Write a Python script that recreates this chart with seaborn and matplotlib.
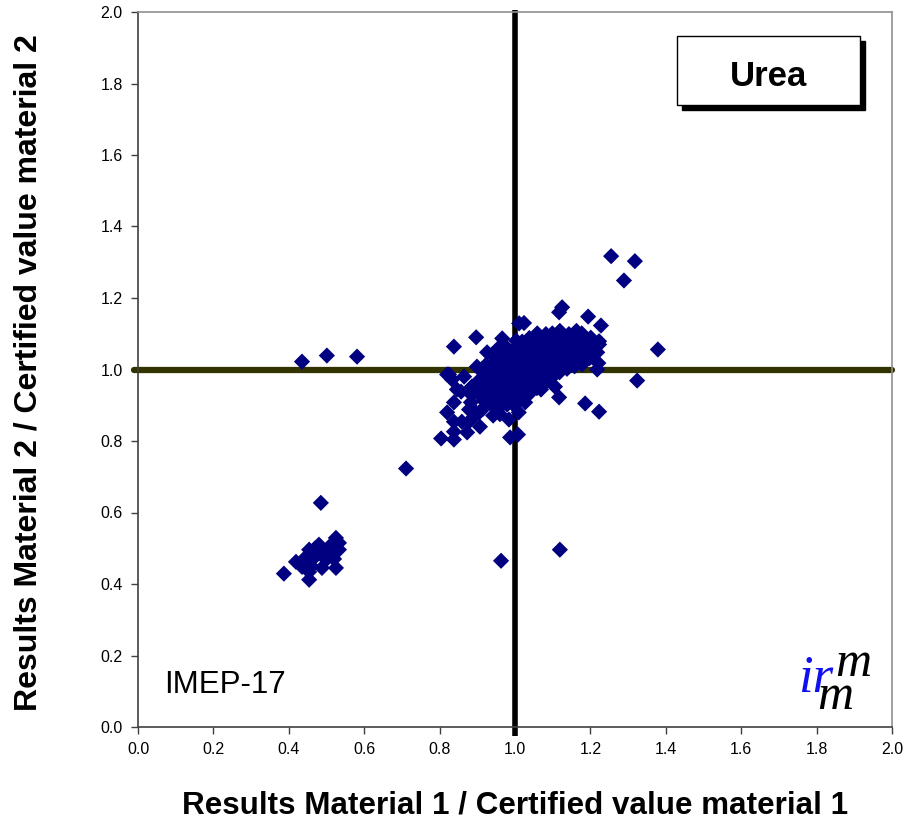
import matplotlib
matplotlib.use("Agg")
import matplotlib.pyplot as plt
import seaborn as sns
import pandas as pd
from matplotlib.patches import Rectangle
from matplotlib.ticker import MultipleLocator, FormatStrFormatter

# Ratios result / certified value for the two test materials (urea)
core_m1 = [
    0.901, 0.898, 0.903,
    0.918, 0.921, 0.917, 0.923, 0.919, 0.922,
    0.938, 0.942, 0.939, 0.944, 0.937, 0.941, 0.943, 0.938,
    0.958, 0.962, 0.957, 0.961, 0.963, 0.959, 0.956, 0.962, 0.958,
    0.979, 0.982, 0.977, 0.981, 0.978, 0.983, 0.979, 0.982, 0.977,
    0.998, 1.002, 0.999, 1.003, 0.997, 1.001, 0.998, 1.002, 0.999, 1.003,
    1.018, 1.022, 1.019, 1.021, 1.017, 1.023, 1.018, 1.022, 1.019,
    1.038, 1.042, 1.039, 1.041, 1.037, 1.043, 1.039, 1.042, 1.038,
    1.058, 1.062, 1.059, 1.061, 1.057, 1.063, 1.058, 1.062, 1.059,
    1.078, 1.082, 1.079, 1.081, 1.077, 1.083, 1.078, 1.082,
    1.098, 1.102, 1.099, 1.101, 1.097, 1.103, 1.099,
    1.118, 1.122, 1.119, 1.121, 1.117, 1.123, 1.119,
    1.138, 1.142, 1.139, 1.141, 1.137, 1.143,
    1.158, 1.162, 1.159, 1.161, 1.157, 1.163,
    1.178, 1.182, 1.179, 1.181, 1.177,
    1.198, 1.202, 1.199, 1.201,
    1.221, 1.218, 1.223,
    0.886, 0.884, 0.883, 0.889, 0.891, 0.905, 0.915, 0.912, 0.926,
    0.960, 1.010,
]
core_m2 = [
    0.934, 0.951, 0.968,
    0.912, 0.931, 0.953, 0.972, 0.991, 1.012,
    0.902, 0.921, 0.943, 0.962, 0.979, 1.001, 1.019, 1.041,
    0.893, 0.912, 0.931, 0.952, 0.969, 0.991, 1.012, 1.028, 1.049,
    0.902, 0.919, 0.942, 0.961, 0.979, 0.998, 1.021, 1.039, 1.062,
    0.899, 0.921, 0.938, 0.961, 0.982, 1.001, 1.018, 1.042, 1.059, 1.081,
    0.921, 0.941, 0.958, 0.979, 0.999, 1.019, 1.041, 1.062, 1.078,
    0.932, 0.951, 0.972, 0.989, 1.011, 1.028, 1.049, 1.071, 1.088,
    0.948, 0.969, 0.991, 1.009, 1.031, 1.048, 1.069, 1.088, 1.101,
    0.962, 0.979, 1.002, 1.021, 1.039, 1.062, 1.081, 1.099,
    0.978, 1.001, 1.019, 1.042, 1.059, 1.078, 1.101,
    0.992, 1.011, 1.029, 1.051, 1.068, 1.091, 1.108,
    1.002, 1.021, 1.039, 1.062, 1.081, 1.099,
    1.009, 1.031, 1.048, 1.072, 1.089, 1.108,
    1.019, 1.041, 1.061, 1.079, 1.101,
    1.032, 1.051, 1.072, 1.089,
    1.018, 1.048, 1.079,
    0.952, 0.930, 0.908, 0.888, 0.868, 0.880, 0.890, 1.000, 1.048,
    0.875, 0.880,
]

# Laboratories reporting roughly half the certified value
low_m1 = [0.387, 0.454, 0.525, 0.525, 0.419, 0.454, 0.480, 0.507, 0.533, 0.533,
          0.462, 0.488, 0.435, 0.499, 0.454, 0.470, 0.510, 0.445, 0.490, 0.460,
          0.520, 0.470]
low_m2 = [0.429, 0.412, 0.445, 0.529, 0.462, 0.496, 0.510, 0.504, 0.496, 0.515,
          0.468, 0.445, 0.448, 0.468, 0.434, 0.480, 0.485, 0.475, 0.490, 0.450,
          0.470, 0.500]

# Scattered individual results
out_m1 = [0.435, 0.501, 0.581, 0.711, 0.485, 0.963, 1.119,
          1.255, 1.318, 1.289, 1.379, 1.324, 1.223, 1.186, 1.117, 1.106,
          1.228, 1.194, 1.125, 1.117, 1.011, 0.897, 0.838, 0.966, 0.958,
          0.820, 0.833, 0.899, 0.865, 0.838, 0.820, 0.804, 0.838, 0.838,
          0.838, 0.873, 0.907, 0.878, 0.859, 0.878, 0.857, 0.886, 0.942,
          0.984, 0.987, 1.008, 1.027, 1.223, 1.218, 1.196, 1.178, 1.069,
          1.024, 0.825, 0.846]
out_m2 = [1.022, 1.039, 1.036, 0.723, 0.627, 0.465, 0.496,
          1.317, 1.303, 1.249, 1.056, 0.969, 0.882, 0.905, 0.922, 0.952,
          1.123, 1.148, 1.174, 1.160, 1.129, 1.090, 1.064, 1.087, 1.062,
          0.986, 0.972, 1.008, 0.980, 0.908, 0.880, 0.807, 0.804, 0.826,
          0.854, 0.824, 0.840, 0.854, 0.854, 0.888, 0.938, 0.952, 0.871,
          0.860, 0.810, 0.818, 0.908, 1.070, 1.000, 1.050, 1.014, 0.944,
          1.130, 0.986, 0.944]

df = pd.DataFrame({
    "m1": core_m1 + low_m1 + out_m1,
    "m2": core_m2 + low_m2 + out_m2,
})

sns.set_theme(style="white")
plt.rcParams["font.family"] = ["Liberation Sans", "DejaVu Sans"]
plt.rcParams["text.color"] = "black"
plt.rcParams["xtick.color"] = "black"
plt.rcParams["ytick.color"] = "black"

W, H = 907, 823
fig = plt.figure(figsize=(W / 100, H / 100), dpi=100)
ax = fig.add_axes([138 / W, 1 - 727 / H, (892 - 138) / W, (727 - 12) / H])

# Reference lines at ratio = 1
ax.plot([-0.01, 2.0], [1.0, 1.0], color="#333300", lw=4.5,
        solid_capstyle="round", zorder=1, clip_on=False)
ax.plot([1.0, 1.0], [-0.025, 2.006], color="black", lw=4,
        solid_capstyle="butt", zorder=1, clip_on=False)

sns.scatterplot(data=df, x="m1", y="m2", marker="D", s=68, color="#000080",
                edgecolor="none", linewidth=0, ax=ax, zorder=3, legend=False)

ax.set_xlim(0, 2)
ax.set_ylim(0, 2)
ax.xaxis.set_major_locator(MultipleLocator(0.2))
ax.yaxis.set_major_locator(MultipleLocator(0.2))
ax.xaxis.set_major_formatter(FormatStrFormatter("%.1f"))
ax.yaxis.set_major_formatter(FormatStrFormatter("%.1f"))
ax.tick_params(axis="both", which="major", direction="out", length=5,
               width=1, color="#404040", labelsize=11.5, pad=6,
               labelcolor="black", bottom=True, left=True)
for side, sp in ax.spines.items():
    sp.set_linewidth(1.2)
    sp.set_color("#404040" if side in ("left", "bottom") else "#909090")
ax.set_xlabel("")
ax.set_ylabel("")

fig.text(515.5 / W, 1 - 805 / H, "Results Material 1 / Certified value material 1",
         ha="center", va="center", fontsize=22.6, fontweight="bold")
fig.text(29 / W, 1 - 373 / H, "Results Material 2 / Certified value material 2",
         ha="center", va="center", fontsize=23, fontweight="bold", rotation=90)

ax.text(0.231, 0.118, "IMEP-17", ha="center", va="center", fontsize=22.5)

# Title box with drop shadow
bx0, bx1, by0, by1 = 677, 860, 36, 105
fig.patches.append(Rectangle((bx0 / W + 5 / W, 1 - by1 / H - 5 / H),
                             (bx1 - bx0) / W, (by1 - by0) / H,
                             transform=fig.transFigure, facecolor="black",
                             edgecolor="black", zorder=5))
fig.patches.append(Rectangle((bx0 / W, 1 - by1 / H),
                             (bx1 - bx0) / W, (by1 - by0) / H,
                             transform=fig.transFigure, facecolor="white",
                             edgecolor="black", lw=1, zorder=6))
fig.text((bx0 + bx1) / 2 / W, 1 - 77 / H, "Urea", ha="center",
         va="center", fontsize=25, fontweight="bold", zorder=7)

# IRMM logo
serif = ["Liberation Serif", "DejaVu Serif"]
fig.text(798 / W, 1 - 692 / H, "ir", color="#1010ee", fontsize=38,
         style="italic", family=serif, ha="left", va="baseline")
fig.text(835 / W, 1 - 676 / H, "m", color="black", fontsize=36,
         style="italic", family=serif, ha="left", va="baseline")
fig.text(817 / W, 1 - 709 / H, "m", color="black", fontsize=36,
         style="italic", family=serif, ha="left", va="baseline")

fig.savefig("out.png", dpi=100)
